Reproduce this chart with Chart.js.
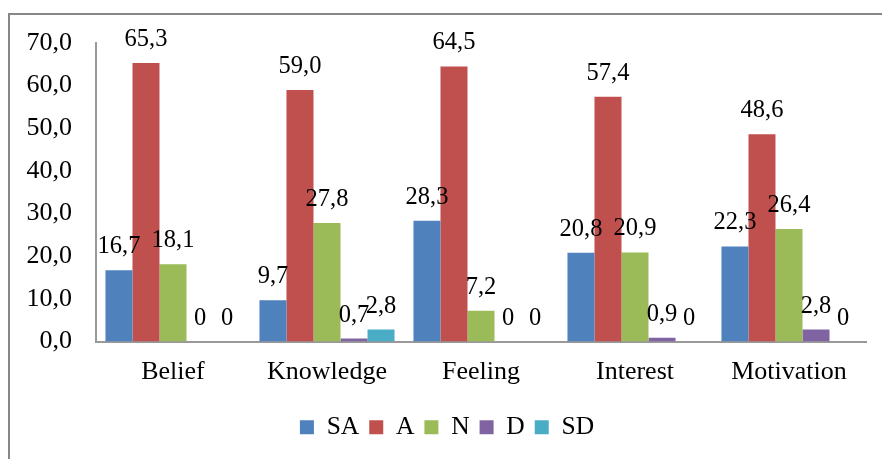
<!DOCTYPE html>
<html>
<head>
<meta charset="utf-8">
<script src="https://cdn.jsdelivr.net/npm/chart.js@4.4.0/dist/chart.umd.min.js"></script>
<style>
  body { margin: 0; background: #fff; overflow: hidden; }
  #wrap { position: relative; width: 882px; height: 459px; }
  #frame { position: absolute; left: 8px; top: 13px; width: 900px; height: 500px; border: 2px solid #878787; }
  #chart { position: absolute; left: 0; top: 0; }
</style>
</head>
<body>
<div id="wrap">
  <div id="frame"></div>
  <canvas id="chart" width="882" height="459"></canvas>
</div>
<script>
const categories = ['Belief', 'Knowledge', 'Feeling', 'Interest', 'Motivation'];
const seriesNames = ['SA', 'A', 'N', 'D', 'SD'];
const saValues = [16.7, 9.7, 28.3, 20.8, 22.3];
const aValues = [65.3, 59.0, 64.5, 57.4, 48.6];
const nValues = [18.1, 27.8, 7.2, 20.9, 26.4];
const dValues = [0, 0.7, 0, 0.9, 2.8];
const sdValues = [0, 2.8, 0, 0, 0];
const yTicks = [0, 10, 20, 30, 40, 50, 60, 70];

const colors = ['#4F81BD', '#C0504D', '#9BBB59', '#8064A2', '#4BACC6'];
const allValues = [saValues, aValues, nValues, dValues, sdValues];

function fmt(v) {
  if (v === 0) return '0';
  return v.toFixed(1).replace('.', ',');
}

// labels above bars
const barLabels = {
  id: 'barLabels',
  afterDatasetsDraw(chart) {
    const ctx = chart.ctx;
    ctx.save();
    ctx.font = '24.5px "Liberation Serif"';
    ctx.fillStyle = '#000';
    ctx.textAlign = 'center';
    ctx.textBaseline = 'alphabetic';
    chart.data.datasets.forEach((ds, i) => {
      const meta = chart.getDatasetMeta(i);
      meta.data.forEach((bar, j) => {
        ctx.fillText(fmt(ds.data[j]), bar.x, bar.y - 17);
      });
    });
    ctx.restore();
  }
};

// legend sits a bit right of centre in the original
const legendShift = {
  id: 'legendShift',
  afterLayout(chart) {
    const lg = chart.legend;
    if (lg) {
      lg.left += 14;
      lg.right += 14;
    }
  }
};

const ctx = document.getElementById('chart');
new Chart(ctx, {
  type: 'bar',
  data: {
    labels: categories,
    datasets: seriesNames.map((name, i) => ({
      label: name,
      data: allValues[i],
      backgroundColor: colors[i],
      borderWidth: 0,
      categoryPercentage: 0.877,
      barPercentage: 1.0,
    }))
  },
  options: {
    responsive: false,
    animation: false,
    layout: {
      padding: { top: 43, right: 16, bottom: 9, left: 0 }
    },
    plugins: {
      legend: {
        position: 'bottom',
        labels: {
          font: { family: 'Liberation Serif', size: 25.5 },
          color: '#000',
          boxWidth: 14,
          boxHeight: 14,
          padding: 10,
        }
      },
      tooltip: { enabled: false }
    },
    scales: {
      x: {
        grid: {
          display: false,
          drawTicks: false,
        },
        border: {
          display: true,
          color: '#999',
          width: 2,
        },
        ticks: {
          font: { family: 'Liberation Serif', size: 26 },
          color: '#000',
          padding: 15,
          maxRotation: 0,
        },
        afterFit(scale) {
          scale.height = 63;
        }
      },
      y: {
        min: 0,
        max: 70,
        grid: {
          display: false,
          drawTicks: false,
        },
        border: {
          display: true,
          color: '#999',
          width: 2,
        },
        afterBuildTicks(scale) {
          scale.ticks = yTicks.map(v => ({ value: v }));
        },
        ticks: {
          font: { family: 'Liberation Serif', size: 26 },
          color: '#000',
          padding: 24,
          callback: (v) => v.toFixed(1).replace('.', ','),
        },
        afterFit(scale) {
          scale.width = 96;
        }
      }
    }
  },
  plugins: [barLabels, legendShift]
});
</script>
</body>
</html>
